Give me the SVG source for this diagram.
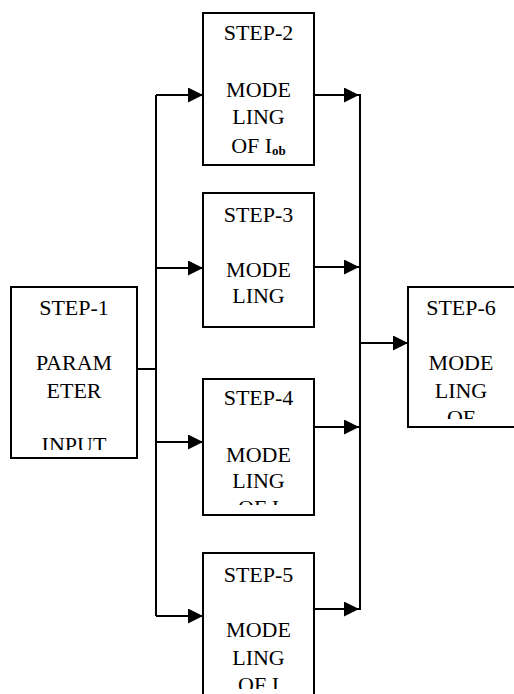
<svg xmlns="http://www.w3.org/2000/svg" width="514" height="694" viewBox="0 0 514 694">
<style>
.box{fill:#fff;stroke:#000;stroke-width:2}
.t{font-family:"Liberation Serif","Times New Roman",serif;font-size:22px;fill:#000;text-anchor:middle}
.sub{font-size:13px;font-weight:bold}
.ln{fill:none;stroke:#000;stroke-width:2}
.ar{fill:none;stroke:#000;stroke-width:2;marker-end:url(#ah)}
</style>
<defs>
<marker id="ah" markerUnits="userSpaceOnUse" markerWidth="16" markerHeight="16" refX="15" refY="7.5" orient="auto">
<path d="M0,0 L15,7.5 L0,15 z" fill="#000"/>
</marker>
<clipPath id="c1"><rect x="12" y="288" width="124" height="162"/></clipPath>
<clipPath id="c4"><rect x="204" y="380" width="109" height="125"/></clipPath>
<clipPath id="c5"><rect x="204" y="554" width="109" height="135"/></clipPath>
<clipPath id="c6"><rect x="409" y="288" width="106" height="131"/></clipPath>
</defs>
<rect width="514" height="694" fill="#fff"/>
<g id="connectors">
<polyline class="ln" points="137,369 156,369"/>
<line class="ln" x1="156" y1="95" x2="156" y2="616"/>
<line class="ar" x1="156" y1="95" x2="203" y2="95"/>
<line class="ar" x1="156" y1="268" x2="203" y2="268"/>
<line class="ar" x1="156" y1="442" x2="203" y2="442"/>
<line class="ar" x1="156" y1="616" x2="203" y2="616"/>
<line class="ar" x1="314" y1="95" x2="359" y2="95"/>
<line class="ar" x1="314" y1="267" x2="359" y2="267"/>
<line class="ar" x1="314" y1="427" x2="359" y2="427"/>
<line class="ar" x1="314" y1="609" x2="359" y2="609"/>
<line class="ln" x1="360" y1="94" x2="360" y2="610"/>
<line class="ar" x1="360" y1="343" x2="408" y2="343"/>
</g>
<g id="step1">
<rect class="box" x="11" y="287" width="126" height="171"/>
<g clip-path="url(#c1)">
<text class="t" x="74" y="315">STEP-1</text>
<text class="t" x="74" y="370">PARAM</text>
<text class="t" x="74" y="398">ETER</text>
<text class="t" x="74" y="452">INPUT</text>
</g>
</g>
<g id="step2">
<rect class="box" x="203" y="13" width="111" height="152"/>
<text class="t" x="258.5" y="40">STEP-2</text>
<text class="t" x="258.5" y="97">MODE</text>
<text class="t" x="258.5" y="124">LING</text>
<text class="t" x="258.5" y="153">OF I<tspan class="sub" dy="2">ob</tspan></text>
</g>
<g id="step3">
<rect class="box" x="203" y="193" width="111" height="134"/>
<text class="t" x="258.5" y="222">STEP-3</text>
<text class="t" x="258.5" y="277">MODE</text>
<text class="t" x="258.5" y="303">LING</text>
</g>
<g id="step4">
<rect class="box" x="203" y="379" width="111" height="136"/>
<g clip-path="url(#c4)">
<text class="t" x="258.5" y="405">STEP-4</text>
<text class="t" x="258.5" y="462">MODE</text>
<text class="t" x="258.5" y="488">LING</text>
<text class="t" x="258.5" y="515">OF I</text>
</g>
</g>
<g id="step5">
<rect class="box" x="203" y="553" width="111" height="150"/>
<g clip-path="url(#c5)">
<text class="t" x="258.5" y="582">STEP-5</text>
<text class="t" x="258.5" y="637">MODE</text>
<text class="t" x="258.5" y="665">LING</text>
<text class="t" x="258.5" y="692">OF I</text>
</g>
</g>
<g id="step6">
<rect class="box" x="408" y="287" width="108" height="140"/>
<g clip-path="url(#c6)">
<text class="t" x="461" y="315">STEP-6</text>
<text class="t" x="461" y="370">MODE</text>
<text class="t" x="461" y="398">LING</text>
<text class="t" x="461" y="425">OF</text>
</g>
</g>
</svg>
